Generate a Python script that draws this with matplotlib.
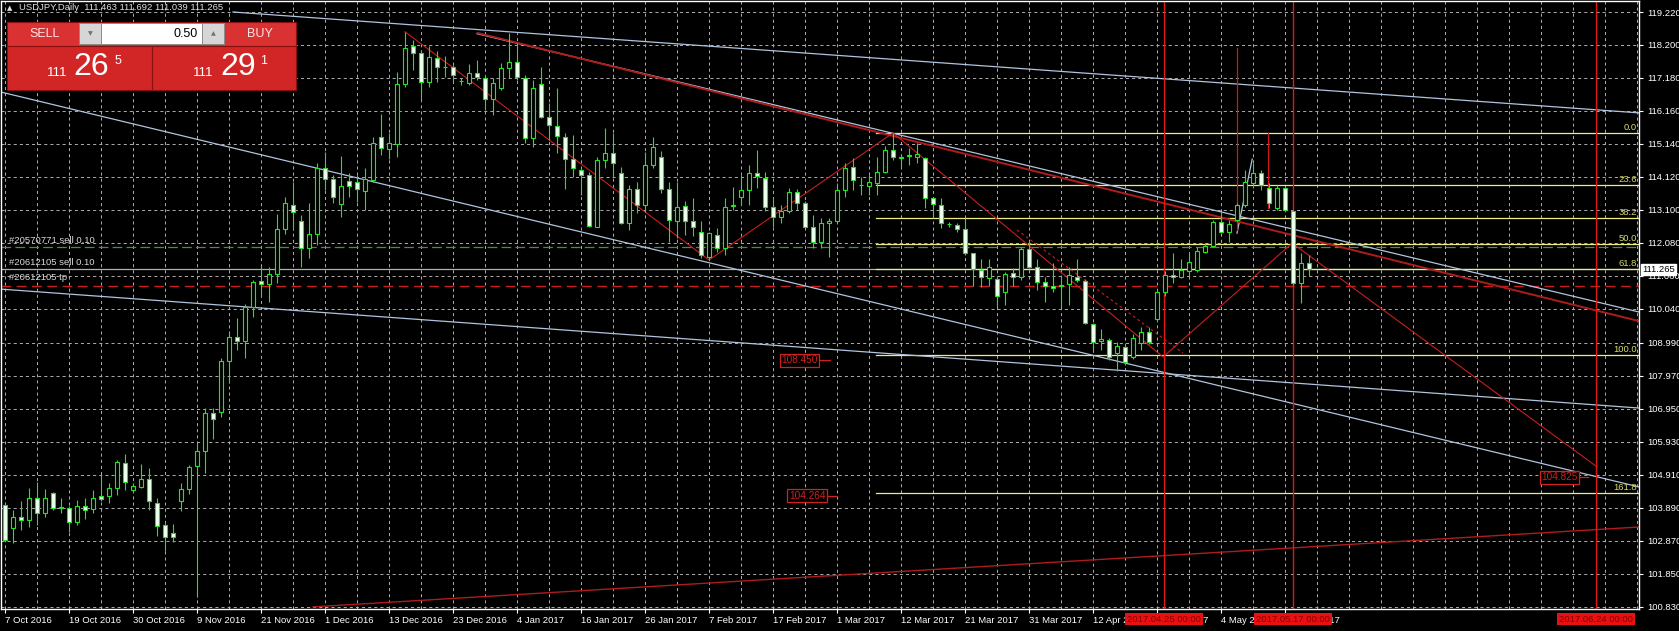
import matplotlib
matplotlib.use('Agg')
import matplotlib.pyplot as plt
from matplotlib.patches import Rectangle
import numpy as np

plt.rcParams['font.family'] = ['Liberation Sans', 'DejaVu Sans']
plt.rcParams['lines.scale_dashes'] = False

# ---------------- data ----------------
opens = [103.97,103.25,103.61,103.51,104.20,103.71,104.35,103.90,103.87,103.44,
         103.94,103.84,104.25,104.25,104.49,105.26,104.42,104.54,104.77,104.04,
         103.35,103.10,104.08,104.46,105.18,105.65,106.81,106.86,108.44,109.16,
         109.05,110.11,110.91,110.81,111.12,112.50,113.25,112.77,111.91,112.34,
         114.38,114.04,113.27,113.99,113.97,113.69,114.02,115.36,114.97,115.14,
         116.98,118.17,117.94,117.06,117.80,117.53,117.51,117.08,117.03,117.34,
         117.19,116.52,116.86,117.48,117.68,117.19,115.31,116.98,115.98,115.69,
         115.36,114.66,114.33,114.18,112.58,114.64,114.85,114.25,112.68,113.76,
         113.25,114.49,114.72,113.74,112.77,113.23,112.77,112.43,111.65,112.32,
         111.91,113.23,113.49,113.70,114.23,114.10,113.20,112.87,113.05,113.66,
         113.30,112.58,112.12,112.69,112.77,113.72,114.42,113.87,113.84,113.94,
         114.28,114.95,114.73,114.80,114.75,114.69,113.46,113.25,112.66,112.62,
         112.50,111.76,111.24,110.98,110.95,110.55,111.14,111.01,111.88,111.34,
         110.88,110.75,110.73,110.81,111.03,110.91,109.57,109.05,109.08,108.68,
         108.87,108.55,108.99,109.31,109.72,110.57,111.09,111.01,111.22,111.24,
         111.81,111.98,112.71,112.43,112.79,113.25,113.92,114.23,113.77,113.15,
         113.77,113.08,110.83,111.463]
highs = [104.05,103.82,104.08,104.49,104.69,104.46,104.38,104.20,103.94,104.13,
         104.20,104.44,104.90,104.64,105.36,105.55,104.66,105.24,105.11,104.18,
         103.43,103.38,104.64,105.21,105.88,106.96,106.96,108.51,109.33,109.75,
         110.19,110.93,111.36,111.34,112.97,113.51,113.97,112.94,113.32,114.54,
         114.90,114.18,114.76,114.23,114.18,114.38,115.36,116.08,115.47,117.37,
         118.61,118.35,118.04,118.17,118.02,117.86,117.58,117.17,117.60,117.75,
         117.27,117.17,117.63,118.58,118.25,117.27,117.13,117.53,116.39,116.86,
         115.49,115.41,114.38,114.28,114.74,115.62,115.47,114.43,113.87,113.97,
         114.90,115.36,114.93,113.97,113.97,113.36,113.46,112.74,112.43,112.53,
         113.46,113.82,114.18,114.49,114.95,114.28,113.46,113.25,113.77,113.74,
         113.36,112.94,112.84,112.84,113.92,114.56,114.70,114.13,114.18,114.75,
         115.06,115.48,114.80,115.00,115.16,114.75,113.49,113.46,112.71,112.69,
         112.84,111.78,111.57,111.57,111.05,111.19,111.29,111.96,112.17,111.57,
         111.03,111.45,111.09,111.34,111.57,110.95,109.61,109.41,109.15,109.02,
         108.95,109.25,109.49,109.49,110.65,111.20,111.76,111.57,111.81,111.96,
         112.07,112.79,113.02,112.79,113.30,114.33,114.54,114.33,113.92,113.87,
         113.82,113.10,111.76,111.692]
lows = [102.85,102.81,103.20,103.30,103.35,103.61,103.82,103.71,103.15,103.35,
        103.53,103.71,104.08,104.02,104.28,104.44,104.38,104.49,103.82,103.01,
        102.56,102.84,103.77,104.31,101.14,104.95,106.00,106.70,107.73,108.77,
        108.51,109.78,110.39,110.26,110.83,112.35,112.48,111.34,111.60,112.01,
        113.71,113.30,112.89,113.50,113.35,113.09,113.97,114.79,114.66,114.74,
        116.91,117.42,116.50,116.91,117.06,117.22,117.09,116.96,116.96,117.13,
        116.19,116.03,116.81,117.17,117.13,115.18,115.03,115.93,115.26,114.85,
        113.73,114.12,113.56,112.58,112.56,114.38,114.12,112.66,112.47,113.01,
        113.04,114.38,113.61,112.12,112.22,112.32,112.29,111.60,111.55,111.81,
        111.71,113.10,113.25,113.25,113.77,113.05,112.58,112.69,112.99,113.10,
        112.53,111.91,111.91,111.65,112.74,113.51,113.72,113.56,113.56,113.56,
        114.23,114.64,114.44,114.49,114.54,113.15,112.84,112.53,112.58,112.43,
        111.71,110.73,110.71,110.73,110.10,110.16,110.73,110.93,111.29,110.62,
        110.26,110.57,110.11,110.16,110.88,109.57,108.77,108.77,108.45,108.13,
        108.30,108.50,108.77,108.94,109.65,110.45,110.83,110.98,111.03,111.19,
        111.76,111.94,112.37,112.12,112.74,113.20,113.77,113.72,113.15,113.10,
        113.05,110.78,110.21,111.039]
closes = [102.89,103.61,103.51,104.20,103.71,104.18,103.87,103.88,103.46,103.95,
          103.82,104.18,104.17,104.49,105.31,104.69,104.56,104.77,104.08,103.32,
          102.97,102.97,104.46,105.14,105.65,106.81,106.62,108.44,109.16,109.05,
          110.11,110.86,110.81,111.12,112.50,113.30,113.04,111.91,112.34,114.41,
          114.04,113.51,113.84,113.84,113.73,114.04,115.16,115.00,115.16,116.98,
          118.12,117.96,117.06,117.84,117.53,117.53,117.27,117.08,117.34,117.22,
          116.52,117.01,117.48,117.68,117.20,115.31,116.88,115.98,115.72,115.38,
          114.66,114.41,114.18,112.60,114.64,114.85,114.56,112.68,113.73,113.25,
          114.49,115.05,113.73,112.79,113.20,112.77,112.56,111.71,112.38,111.91,
          113.20,113.25,113.72,114.23,114.15,113.20,112.89,113.05,113.66,113.30,
          112.58,112.12,112.69,112.76,113.72,114.39,114.03,113.86,113.97,114.28,
          114.95,114.75,114.71,114.78,114.82,113.46,113.28,112.69,112.66,112.50,
          111.76,111.26,111.01,111.32,110.45,111.12,111.03,111.88,111.34,110.88,
          110.75,110.67,110.78,111.09,110.93,109.61,109.02,109.11,108.56,108.89,
          108.40,109.13,109.31,109.02,110.57,111.09,111.03,111.24,111.50,111.83,
          111.98,112.71,112.43,112.65,113.25,113.97,114.23,113.87,113.30,113.77,
          113.10,110.83,111.45,111.265]

date_tick_bars = [0, 8, 16, 24, 32, 40, 48, 56, 64, 72, 80, 88, 96, 104, 112,
                  120, 128, 136, 144, 152, 160]
date_labels = ["7 Oct 2016", "19 Oct 2016", "30 Oct 2016", "9 Nov 2016",
               "21 Nov 2016", "1 Dec 2016", "13 Dec 2016", "23 Dec 2016",
               "4 Jan 2017", "16 Jan 2017", "26 Jan 2017", "7 Feb 2017",
               "17 Feb 2017", "1 Mar 2017", "12 Mar 2017", "21 Mar 2017",
               "31 Mar 2017", "12 Apr 2017", "24 Apr 2017", "4 May 2017",
               "16 May 2017"]
price_ticks = [119.22, 118.20, 117.18, 116.16, 115.14, 114.12, 113.10, 112.08,
               111.06, 110.04, 108.99, 107.97, 106.95, 105.93, 104.91, 103.89,
               102.87, 101.85, 100.83]

# trend lines (bar index, price)
blue_top = ([28.5, 204.25], [119.22, 116.10])
blue_upper = ([59.0, 204.25], [118.55, 109.94])
blue_lower = ([-0.6, 204.25], [116.75, 104.53])
blue_flat = ([-0.6, 204.25], [110.65, 106.97])
blue_may = ([154.0, 155.9], [112.38, 114.67])
red_channel = ([59.1, 204.25], [118.57, 109.66])
red_bottom = ([38.5, 204.25], [100.82, 103.29])
zigzag_x = [50, 88, 111, 144.75, 160.9, 199.0]
zigzag_y = [118.61, 111.55, 115.48, 108.55, 112.07, 105.15]
red_dotted = ([126.5, 147.25], [112.48, 108.67])
red_spikes = [(154.0, 112.48, 118.11), (157.9, 113.16, 115.48)]

fib_levels = [115.47, 113.87, 112.85, 112.04, 111.27, 108.61, 104.34]
fib_names = ["0.0", "23.6", "38.2", "50.0", "61.8", "100.0", "161.8"]
fib_start = 108.9

vlines_bars = [144.875, 161.0, 198.875]
vlines_text = ["2017.04.25 00:00", "2017.05.17 00:00", "2017.06.24 00:00"]

price_labels = [(101.75, 103.1, 108.450), (102.75, 104.0, 104.264),
                (196.75, 197.9, 104.825)]

order_lines = [111.96, 111.265, 110.75]
order_texts = ["#20570771 sell 0.10", "#20612105 sell 0.10", "#20612105 tp"]
order_text_y = [112.14, 111.46, 111.02]

bid = 111.265

# ---------------- figure ----------------
W, H = 1679, 631
fig = plt.figure(figsize=(W / 100, H / 100), dpi=100, facecolor='black')
L, R, T, B = 1, 1639, 1, 609
ax = fig.add_axes([L / W, (H - B) / H, (R - L) / W, (B - T) / H], facecolor='black')
ppu = 32.33
ax.set_ylim(119.22 - (B - 12) / ppu, 119.22 + (12 - T) / ppu)
ax.set_xlim(-0.5, 204.25)

GREEN = '#22E622'
GRID = '#A8A8A8'
BLUE = '#B0C4DE'

# grid
for p in price_ticks:
    ax.axhline(p, color=GRID, lw=0.72, ls=(0, (2.2, 2.2)), zorder=1)
for b in range(0, 205, 4):
    ax.axvline(b, color=GRID, lw=0.72, ls=(0, (2.2, 2.2)), zorder=1)

# order lines
ax.axhline(order_lines[0], color='#4E8A4E', lw=0.9, ls=(0, (7, 3)), zorder=2)
ax.axhline(order_lines[1], color='#A4B8A4', lw=0.9, zorder=2)
ax.axhline(order_lines[2], color='#C82020', lw=1.0, ls=(0, (7, 4)), zorder=2)
for t, y in zip(order_texts, order_text_y):
    ax.text(8 / 1638, y, t, transform=ax.get_yaxis_transform(), color='#D8D8D8',
            fontsize=6.8, va='center', ha='left', zorder=6)

# fibonacci
for lv, nm in zip(fib_levels, fib_names):
    ax.plot([fib_start, 204.25], [lv, lv], color='#EEEE80', lw=0.9, zorder=2)
    ax.text(204.0, lv + 0.04, nm, color='#D8D870', fontsize=6.8, ha='right',
            va='bottom', zorder=6)

# trend lines
for ln in (blue_top, blue_upper, blue_lower, blue_flat, blue_may):
    ax.plot(ln[0], ln[1], color=BLUE, lw=0.9, zorder=2)
ax.plot(red_channel[0], red_channel[1], color='#B01C1C', lw=1.4, zorder=2)
ax.plot(red_bottom[0], red_bottom[1], color='#B01C1C', lw=1.0, zorder=2)
ax.plot(zigzag_x, zigzag_y, color='#C81E1E', lw=0.8, zorder=2)
ax.plot(red_dotted[0], red_dotted[1], color='#C81E1E', lw=0.8, ls=(0, (2, 2)), zorder=2)
for xb, y0, y1 in red_spikes:
    ax.plot([xb, xb], [y0, y1], color='#D01818', lw=0.9, zorder=2)

for vb in vlines_bars:
    ax.axvline(vb, color='#E01818', lw=1.0, zorder=2)

# candles
idx = np.arange(len(opens))
o = np.array(opens); h = np.array(highs); l = np.array(lows); c = np.array(closes)
up = c >= o
ax.vlines(idx, l, h, color=GREEN, lw=0.8, zorder=3)
bot = np.minimum(o, c)
hgt = np.abs(c - o)
ax.bar(idx, hgt, bottom=bot, width=0.55, color=np.where(up, 'black', '#F4FFF4'),
       edgecolor=GREEN, linewidth=0.8, zorder=4)

# price labels (red boxes)
for xe, xl, p in price_labels:
    ax.plot([xe, xl], [p, p], color='#D02020', lw=0.9, zorder=5)
    ax.text(xe - 0.2, p, f"{p:.3f}", color='#D02020', fontsize=7.2, ha='right',
            va='center', zorder=6,
            bbox=dict(boxstyle='square,pad=0.15', fc='black', ec='#D02020', lw=0.9))

# axes styling
for s in ax.spines.values():
    s.set_color('white'); s.set_linewidth(1.0)
ax.yaxis.tick_right()
ax.set_yticks(price_ticks)
ax.set_yticklabels([f"{p:.3f}" for p in price_ticks])
ax.set_xticks(date_tick_bars)
ax.set_xticklabels(date_labels)
for lb in ax.get_xticklabels():
    lb.set_ha('left')
ax.tick_params(axis='both', colors='white', labelcolor='white', labelsize=6.8,
               length=3, width=0.8, direction='out')
ax.tick_params(axis='x', pad=2)
ax.tick_params(axis='y', pad=3)

# bid label
ax.text(1 + 3 / 1638, bid, f"{bid:.3f}", transform=ax.get_yaxis_transform(),
        color='black', fontsize=6.8, ha='left', va='center', zorder=12, clip_on=False,
        bbox=dict(boxstyle='square,pad=0.12', fc='white', ec='white'))

# vertical line date boxes
for vb, t in zip(vlines_bars, vlines_text):
    ax.text(vb, -0.0165, t, transform=ax.get_xaxis_transform(), color='#8A0000',
            fontsize=6.8, ha='center', va='center', zorder=12, clip_on=False,
            bbox=dict(boxstyle='square,pad=0.2', fc='#E81010', ec='none'))

# ---------------- overlay (header and trade panel) ----------------
ov = fig.add_axes([0, 0, 1, 1], facecolor='none', zorder=10)
ov.set_xlim(0, W); ov.set_ylim(H, 0); ov.axis('off')

ov.text(10, 8, "\u25B2", color='#E0E0E0', fontsize=5, ha='center', va='center',
        family='DejaVu Sans')
ov.text(19, 8, "USDJPY,Daily  111.463 111.692 111.039 111.265", color='#E0E0E0',
        fontsize=6.8, ha='left', va='center')

RED1 = '#DA3232'
RED2 = '#D22626'
ov.add_patch(Rectangle((7, 22), 289, 24, fc=RED1, ec='#8A1010', lw=0.8))
ov.add_patch(Rectangle((7, 46), 145, 44, fc=RED2, ec='#8A1010', lw=0.8))
ov.add_patch(Rectangle((152, 46), 144, 44, fc=RED2, ec='#8A1010', lw=0.8))
ov.add_patch(Rectangle((79, 23), 22, 21, fc='#D6D6D6', ec='#8C8C8C', lw=0.7))
ov.add_patch(Rectangle((101, 23), 101, 21, fc='white', ec='#8C8C8C', lw=0.7))
ov.add_patch(Rectangle((202, 23), 22, 21, fc='#D6D6D6', ec='#8C8C8C', lw=0.7))
ov.text(90, 34, "\u25BC", color='#707070', fontsize=4.5, ha='center', va='center',
        family='DejaVu Sans')
ov.text(213, 34, "\u25B2", color='#707070', fontsize=4.5, ha='center', va='center',
        family='DejaVu Sans')
ov.text(198, 34, "0.50", color='black', fontsize=9, ha='right', va='center')
ov.text(45, 34, "SELL", color='#FFE4E4', fontsize=9, ha='center', va='center')
ov.text(260, 34, "BUY", color='#FFE4E4', fontsize=9, ha='center', va='center')
ov.text(57, 73, "111", color='white', fontsize=9.5, ha='center', va='center')
ov.text(91, 67, "26", color='white', fontsize=23, ha='center', va='center')
ov.text(118, 61, "5", color='white', fontsize=9, ha='center', va='center')
ov.text(203, 73, "111", color='white', fontsize=9.5, ha='center', va='center')
ov.text(238, 67, "29", color='white', fontsize=23, ha='center', va='center')
ov.text(264, 61, "1", color='white', fontsize=9, ha='center', va='center')

fig.savefig('out.png', dpi=100, facecolor='black')
